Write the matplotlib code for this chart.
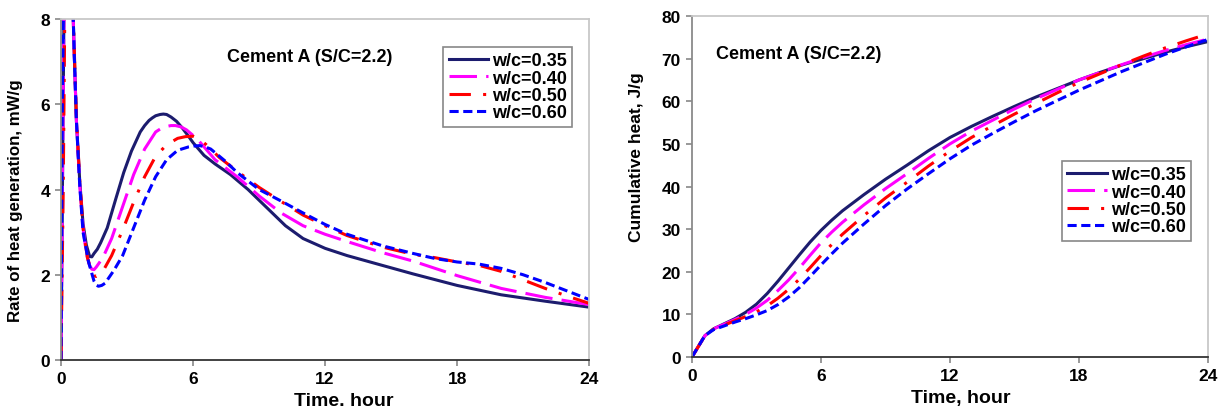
import numpy as np
import matplotlib
matplotlib.use('Agg')
import matplotlib.pyplot as plt

plt.rcParams['font.family'] = ['Liberation Sans', 'DejaVu Sans']
plt.rcParams['font.weight'] = 'bold'

labels = ['w/c=0.35', 'w/c=0.40', 'w/c=0.50', 'w/c=0.60']
colors = ['#1c1c6e', '#ff00ff', '#ff0000', '#0000ff']
dashes = [None, (9, 3), (7, 4, 1, 4), (3, 1.5)]

# rate of heat generation (mW/g) vs time (hour)
rate_t_035 = [0, 0.08, 0.2, 0.35, 0.5, 0.6, 0.7, 0.85, 1.0, 1.15, 1.3, 1.4, 1.5, 1.65, 1.8, 2.1, 2.5, 2.85,
              3.2, 3.6, 3.8, 4.0, 4.15, 4.3, 4.5, 4.65, 4.8, 5.0, 5.25, 5.5, 5.75, 6.0, 6.5, 7.0, 7.7, 8.5,
              9.4, 10.2, 11.0, 12.0, 13.0, 14.6, 16.0, 18.0, 20.0, 22.0, 24.0]
rate_035 = [0, 5, 12, 14, 9, 7.2, 5.6, 4.2, 3.2, 2.7, 2.43, 2.42, 2.5, 2.6, 2.75, 3.1, 3.8, 4.4,
            4.9, 5.35, 5.5, 5.62, 5.68, 5.73, 5.76, 5.77, 5.76, 5.7, 5.6, 5.45, 5.28, 5.1, 4.8, 4.6, 4.35, 4.0,
            3.55, 3.15, 2.85, 2.62, 2.45, 2.22, 2.02, 1.75, 1.53, 1.38, 1.24]

rate_t_040 = [0, 0.08, 0.2, 0.35, 0.5, 0.6, 0.7, 0.85, 1.0, 1.15, 1.3, 1.4, 1.5, 1.6, 1.9, 2.3, 2.8, 3.3,
              3.8, 4.3, 4.6, 4.8, 5.0, 5.2, 5.45, 5.7, 6.2, 7.0, 8.0, 9.0, 10.0, 11.0, 12.0, 13.0, 14.6,
              16.0, 18.0, 20.0, 22.0, 24.0]
rate_040 = [0, 5, 12, 14, 9, 7.2, 5.6, 4.1, 3.1, 2.5, 2.22, 2.13, 2.12, 2.18, 2.4, 2.85, 3.6, 4.35,
            4.95, 5.35, 5.45, 5.48, 5.5, 5.5, 5.47, 5.4, 5.18, 4.7, 4.3, 3.85, 3.45, 3.15, 2.95, 2.78, 2.52,
            2.32, 1.98, 1.68, 1.47, 1.3]

rate_t_050 = [0, 0.1, 0.22, 0.35, 0.5, 0.6, 0.7, 0.85, 1.0, 1.2, 1.4, 1.5, 1.6, 1.75, 1.9, 2.3, 2.8, 3.3,
              3.8, 4.3, 4.8, 5.3, 5.65, 6.0, 6.3, 6.6, 7.2, 8.0, 9.0, 10.0, 11.0, 12.0, 13.0, 14.6, 16.0,
              17.0, 18.0, 19.0, 20.0, 21.0, 22.0, 23.0, 24.0]
rate_050 = [0, 4, 11, 14, 9.2, 7.3, 5.7, 4.2, 3.1, 2.4, 2.05, 1.98, 1.96, 2.0, 2.08, 2.45, 3.05, 3.7,
            4.3, 4.78, 5.05, 5.2, 5.24, 5.25, 5.18, 5.05, 4.75, 4.43, 4.05, 3.72, 3.4, 3.15, 2.92, 2.65, 2.48,
            2.4, 2.3, 2.22, 2.08, 1.88, 1.68, 1.5, 1.33]

rate_t_060 = [0, 0.06, 0.2, 0.35, 0.5, 0.6, 0.7, 0.85, 1.0, 1.25, 1.5, 1.6, 1.7, 1.85, 2.0, 2.4, 2.8, 3.3,
              3.8, 4.3, 4.8, 5.3, 5.8, 6.05, 6.3, 6.55, 6.8, 7.5, 8.0, 9.0, 10.0, 11.0, 12.0, 13.0, 14.6,
              16.0, 17.0, 18.0, 19.0, 20.0, 21.0, 22.0, 23.0, 24.0]
rate_060 = [0, 6, 12, 14, 9, 7.2, 5.6, 4.1, 3.0, 2.3, 1.85, 1.76, 1.73, 1.75, 1.8, 2.1, 2.45, 3.1,
            3.75, 4.3, 4.7, 4.92, 5.0, 5.02, 5.03, 5.0, 4.95, 4.65, 4.4, 4.0, 3.73, 3.45, 3.18, 2.95, 2.68,
            2.5, 2.38, 2.3, 2.25, 2.15, 2.0, 1.82, 1.62, 1.42]

# cumulative heat (J/g) vs time (hour)
cum_t = [0, 0.3, 0.6, 1.0, 1.5, 2.0, 2.5, 3.0, 3.5, 4.0, 4.5, 5.0, 5.5, 6.0, 6.5, 7.0, 8.0, 9.0, 10.0,
         11.0, 12.0, 13.0, 14.0, 15.0, 16.0, 17.0, 18.0, 19.0, 20.0, 21.0, 22.0, 23.0, 24.0]
cum_035 = [0, 2.5, 5.0, 6.6, 7.8, 9.0, 10.5, 12.4, 14.9, 17.8, 20.9, 24.0, 27.0, 29.7, 32.1, 34.3, 38.1,
           41.7, 45.0, 48.4, 51.5, 54.1, 56.5, 58.8, 61.0, 63.0, 65.0, 66.8, 68.5, 70.0, 71.5, 72.8, 74.0]
cum_040 = [0, 2.5, 5.0, 6.6, 7.7, 8.8, 10.0, 11.5, 13.3, 15.6, 18.1, 20.9, 23.9, 26.8, 29.3, 31.6, 35.7,
           39.5, 43.0, 46.6, 50.0, 53.0, 55.6, 58.2, 60.6, 62.8, 65.0, 66.8, 68.6, 70.3, 71.9, 73.3, 74.6]
cum_050 = [0, 2.5, 5.0, 6.5, 7.5, 8.5, 9.5, 10.6, 12.0, 13.8, 15.9, 18.3, 21.0, 23.8, 26.4, 28.8, 33.2,
           37.3, 41.0, 44.8, 48.3, 51.5, 54.3, 57.0, 59.5, 62.0, 64.4, 66.5, 68.6, 70.6, 72.5, 74.2, 75.8]
cum_060 = [0, 2.5, 5.0, 6.4, 7.3, 8.2, 9.0, 9.9, 10.9, 12.3, 14.1, 16.3, 18.9, 21.6, 24.2, 26.7, 31.2,
           35.5, 39.4, 43.0, 46.5, 49.7, 52.5, 55.2, 57.8, 60.2, 62.6, 64.8, 67.0, 69.0, 71.0, 72.8, 74.5]

rate_t = [rate_t_035, rate_t_040, rate_t_050, rate_t_060]
rate = [rate_035, rate_040, rate_050, rate_060]
cum = [cum_035, cum_040, cum_050, cum_060]

fig = plt.figure(figsize=(12.23, 4.10), dpi=100)
ax1 = fig.add_axes([0.0499, 0.1195, 0.4318, 0.8317])
ax2 = fig.add_axes([0.5658, 0.1268, 0.4219, 0.8317])


def style_axes(ax):
    ax.spines['top'].set_color('#c8c8c8')
    ax.spines['right'].set_color('#c8c8c8')
    ax.spines['left'].set_color('#8a8a8a')
    ax.spines['bottom'].set_color('#333333')
    for s in ax.spines.values():
        s.set_linewidth(1.3)
    ax.tick_params(direction='out', length=4, width=1.2, color='#888888',
                   labelsize=12.5, pad=4)
    for lab in ax.get_xticklabels() + ax.get_yticklabels():
        lab.set_fontweight('bold')


def add_legend(ax, anchor):
    leg = ax.legend(loc='upper left', bbox_to_anchor=anchor, fontsize=13, handlelength=2.2,
                    handletextpad=0.2, borderpad=0.3, labelspacing=0.02, fancybox=False,
                    framealpha=1, borderaxespad=0)
    leg.get_frame().set_edgecolor('#888888')
    leg.get_frame().set_linewidth(1.2)
    for t in leg.get_texts():
        t.set_fontweight('bold')


for i in range(4):
    line, = ax1.plot(rate_t[i], rate[i], color=colors[i], lw=2.2, label=labels[i])
    if dashes[i] is not None:
        line.set_dashes(dashes[i])
    line2, = ax2.plot(cum_t, cum[i], color=colors[i], lw=2.2, label=labels[i])
    if dashes[i] is not None:
        line2.set_dashes(dashes[i])

ax1.set_xlim(0, 24)
ax1.set_ylim(0, 8)
ax1.set_xticks([0, 6, 12, 18, 24])
ax1.set_yticks([0, 2, 4, 6, 8])
ax1.set_xlabel('Time. hour', fontsize=14, fontweight='bold')
ax1.xaxis.set_label_coords(0.535, -0.095)
ax1.set_ylabel('Rate of heat generation, mW/g', fontsize=12.2, fontweight='bold')
ax1.yaxis.set_label_coords(-0.072, 0.47)
ax1.text(0.4716, 0.889, 'Cement A (S/C=2.2)', transform=ax1.transAxes, ha='center', va='center',
         fontsize=13, fontweight='bold')
style_axes(ax1)
add_legend(ax1, (0.7235, 0.918))

ax2.set_xlim(0, 24)
ax2.set_ylim(0, 80)
ax2.set_xticks([0, 6, 12, 18, 24])
ax2.set_yticks(np.arange(0, 81, 10))
ax2.set_xlabel('Time, hour', fontsize=14, fontweight='bold')
ax2.xaxis.set_label_coords(0.52, -0.095)
ax2.set_ylabel('Cumulative heat, J/g', fontsize=12.5, fontweight='bold')
ax2.yaxis.set_label_coords(-0.093, 0.59)
ax2.text(0.0465, 0.889, 'Cement A (S/C=2.2)', transform=ax2.transAxes, ha='left', va='center',
         fontsize=13, fontweight='bold')
style_axes(ax2)
add_legend(ax2, (0.717, 0.575))

fig.savefig('out.png', dpi=100)
